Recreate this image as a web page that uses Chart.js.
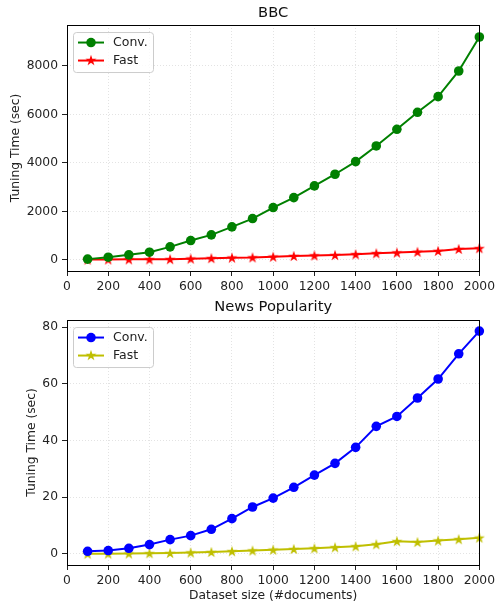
<!DOCTYPE html>
<html>
<head>
<meta charset="utf-8">
<script src="https://cdn.jsdelivr.net/npm/chart.js@4.4.0/dist/chart.umd.min.js"></script>
<style>
  body { margin: 0; background: #fff; }
  canvas { display: block; }
</style>
</head>
<body>
<canvas id="bbcChart" width="498" height="295"></canvas>
<canvas id="newsChart" width="498" height="311"></canvas>
<script>
// Datos
const sizes = [100, 200, 300, 400, 500, 600, 700, 800, 900, 1000,
               1100, 1200, 1300, 1400, 1500, 1600, 1700, 1800, 1900, 2000];

const bbcConv = [30, 110, 206, 316, 536, 797, 1031, 1361, 1704, 2158,
                 2570, 3052, 3533, 4055, 4701, 5388, 6089, 6735, 7794, 9196];
const bbcFast = [10, 15, 20, 20, 30, 50, 70, 90, 100, 130,
                 160, 180, 200, 230, 270, 300, 330, 370, 450, 480];

const newsConv = [0.94, 1.2, 2.0, 3.3, 5.05, 6.46, 8.7, 12.45, 16.56, 19.7,
                  23.5, 27.8, 31.95, 37.6, 45.0, 48.5, 55.0, 61.7, 70.6, 78.6];
const newsFast = [0.05, 0.1, 0.15, 0.25, 0.35, 0.5, 0.7, 0.95, 1.2, 1.5,
                  1.75, 2.0, 2.35, 2.7, 3.4, 4.5, 4.2, 4.7, 5.2, 5.75];

const xTicks = [0, 200, 400, 600, 800, 1000, 1200, 1400, 1600, 1800, 2000];
const bbcTicks = [0, 2000, 4000, 6000, 8000];
const newsTicks = [0, 20, 40, 60, 80];

const seriesNames = ['Conv.', 'Fast'];

Chart.defaults.font.family = "'DejaVu Sans', sans-serif";
Chart.defaults.color = '#222';

// Estrella rellena de 5 puntas como pointStyle
function makeStar(color) {
    const c = document.createElement('canvas');
    c.width = 12;
    c.height = 12;
    const ctx = c.getContext('2d');
    const R = 5.8, r = R * 0.382;
    ctx.beginPath();
    for (let i = 0; i < 10; i++) {
        const rad = i % 2 === 0 ? R : r;
        const a = -Math.PI / 2 + i * Math.PI / 5;
        const px = 6 + rad * Math.cos(a);
        const py = 6.5 + rad * Math.sin(a);
        if (i === 0) ctx.moveTo(px, py); else ctx.lineTo(px, py);
    }
    ctx.closePath();
    ctx.fillStyle = color;
    ctx.fill();
    return c;
}

function toPoints(values) {
    return sizes.map((x, i) => ({ x: x, y: values[i] }));
}

// Centrar el título sobre el área del gráfico (como matplotlib)
const centerTitle = {
    id: 'centerTitle',
    afterLayout(chart) {
        if (chart.titleBlock) {
            chart.titleBlock.left = chart.chartArea.left;
            chart.titleBlock.right = chart.chartArea.right;
        }
    }
};

// Marco de ejes + leyenda dentro del área del gráfico
const frameLegend = {
    id: 'frameLegend',
    afterDraw(chart) {
        const ctx = chart.ctx;
        const a = chart.chartArea;
        ctx.save();
        ctx.strokeStyle = '#000';
        ctx.lineWidth = 1;
        ctx.setLineDash([]);
        ctx.strokeRect(Math.round(a.left) + 0.5, Math.round(a.top) + 0.5,
                       Math.round(a.right - a.left), Math.round(a.bottom - a.top));

        // leyenda
        const bx = a.left + 6, by = a.top + 7, bw = 80, bh = 40;
        ctx.beginPath();
        ctx.roundRect(bx + 0.5, by + 0.5, bw, bh, 3);
        ctx.fillStyle = 'rgba(255,255,255,0.8)';
        ctx.fill();
        ctx.strokeStyle = '#cccccc';
        ctx.stroke();

        chart.data.datasets.forEach((ds, i) => {
            const y = by + 10.5 + i * 18;
            ctx.strokeStyle = ds.borderColor;
            ctx.lineWidth = 2;
            ctx.beginPath();
            ctx.moveTo(bx + 5, y);
            ctx.lineTo(bx + 31, y);
            ctx.stroke();
            if (ds.pointStyle === 'circle') {
                ctx.fillStyle = ds.pointBackgroundColor;
                ctx.beginPath();
                ctx.arc(bx + 18, y, 4.8, 0, Math.PI * 2);
                ctx.fill();
            } else {
                ctx.drawImage(ds.pointStyle, bx + 12, y - 6.5);
            }
            ctx.fillStyle = '#222';
            ctx.font = "12.5px 'DejaVu Sans', sans-serif";
            ctx.textBaseline = 'middle';
            ctx.textAlign = 'left';
            ctx.fillText(ds.label, bx + 40, y);
        });
        ctx.restore();
    }
};

function dataset(label, values, color, marker) {
    return {
        label: label,
        data: toPoints(values),
        borderColor: color,
        backgroundColor: color,
        pointBackgroundColor: color,
        pointBorderWidth: 0,
        pointStyle: marker === 'circle' ? 'circle' : makeStar(color),
        pointRadius: 4.8,
        borderWidth: 2,
        tension: 0,
        clip: false
    };
}

const plainNumber = (v) => String(v);

function makeChart(id, opts) {
    const ctx = document.getElementById(id).getContext('2d');
    return new Chart(ctx, {
        type: 'line',
        data: {
            datasets: [
                dataset(seriesNames[0], opts.conv, opts.convColor, 'circle'),
                dataset(seriesNames[1], opts.fast, opts.fastColor, 'star')
            ]
        },
        plugins: [centerTitle, frameLegend],
        options: {
            responsive: false,
            animation: false,
            layout: { padding: { right: 16 } },
            plugins: {
                legend: { display: false },
                tooltip: { enabled: false },
                title: {
                    display: true,
                    text: opts.title,
                    color: '#111',
                    font: { size: 14.7, weight: 'normal' },
                    padding: opts.titlePad
                }
            },
            scales: {
                x: {
                    type: 'linear',
                    min: 0,
                    max: 2000,
                    afterBuildTicks: (s) => { s.ticks = xTicks.map(v => ({ value: v })); },
                    afterFit: (s) => { s.height = opts.xHeight; },
                    ticks: { font: { size: 12.3 }, padding: 3, maxRotation: 0, autoSkip: false, callback: plainNumber },
                    grid: {
                        color: '#e3e3e3',
                        lineWidth: 1,
                        tickLength: 5,
                        tickColor: '#222',
                        tickBorderDash: []
                    },
                    border: { display: false, dash: [1, 2] },
                    title: {
                        display: !!opts.xTitle,
                        text: opts.xTitle || '',
                        font: { size: 12.3 },
                        padding: { top: 0, bottom: 2.8 }
                    }
                },
                y: {
                    type: 'linear',
                    min: opts.yMin,
                    max: opts.yMax,
                    afterBuildTicks: (s) => { s.ticks = opts.yTicks.map(v => ({ value: v })); },
                    afterFit: (s) => { s.width = 67; },
                    ticks: { font: { size: 12.3 }, padding: 4, callback: plainNumber },
                    grid: {
                        color: '#e3e3e3',
                        lineWidth: 1,
                        tickLength: 5,
                        tickColor: '#222',
                        tickBorderDash: []
                    },
                    border: { display: false, dash: [1, 2] },
                    title: {
                        display: true,
                        text: 'Tuning Time (sec)',
                        font: { size: 12.3 },
                        padding: { top: opts.yTitlePad, bottom: 0 }
                    }
                }
            }
        }
    });
}

makeChart('bbcChart', {
    title: 'BBC',
    conv: bbcConv,
    fast: bbcFast,
    convColor: '#008000',
    fastColor: '#ff0000',
    yMin: -460,
    yMax: 9690,
    yTicks: bbcTicks,
    titlePad: { top: 4.5, bottom: 2.9 },
    xHeight: 24,
    yTitlePad: 8
});

makeChart('newsChart', {
    title: 'News Popularity',
    conv: newsConv,
    fast: newsFast,
    convColor: '#0000ff',
    fastColor: '#bfbf00',
    yMin: -3.9,
    yMax: 82.5,
    yTicks: newsTicks,
    titlePad: { top: 3.5, bottom: 3.9 },
    xHeight: 41,
    xTitle: 'Dataset size (#documents)',
    yTitlePad: 24
});
</script>
</body>
</html>
